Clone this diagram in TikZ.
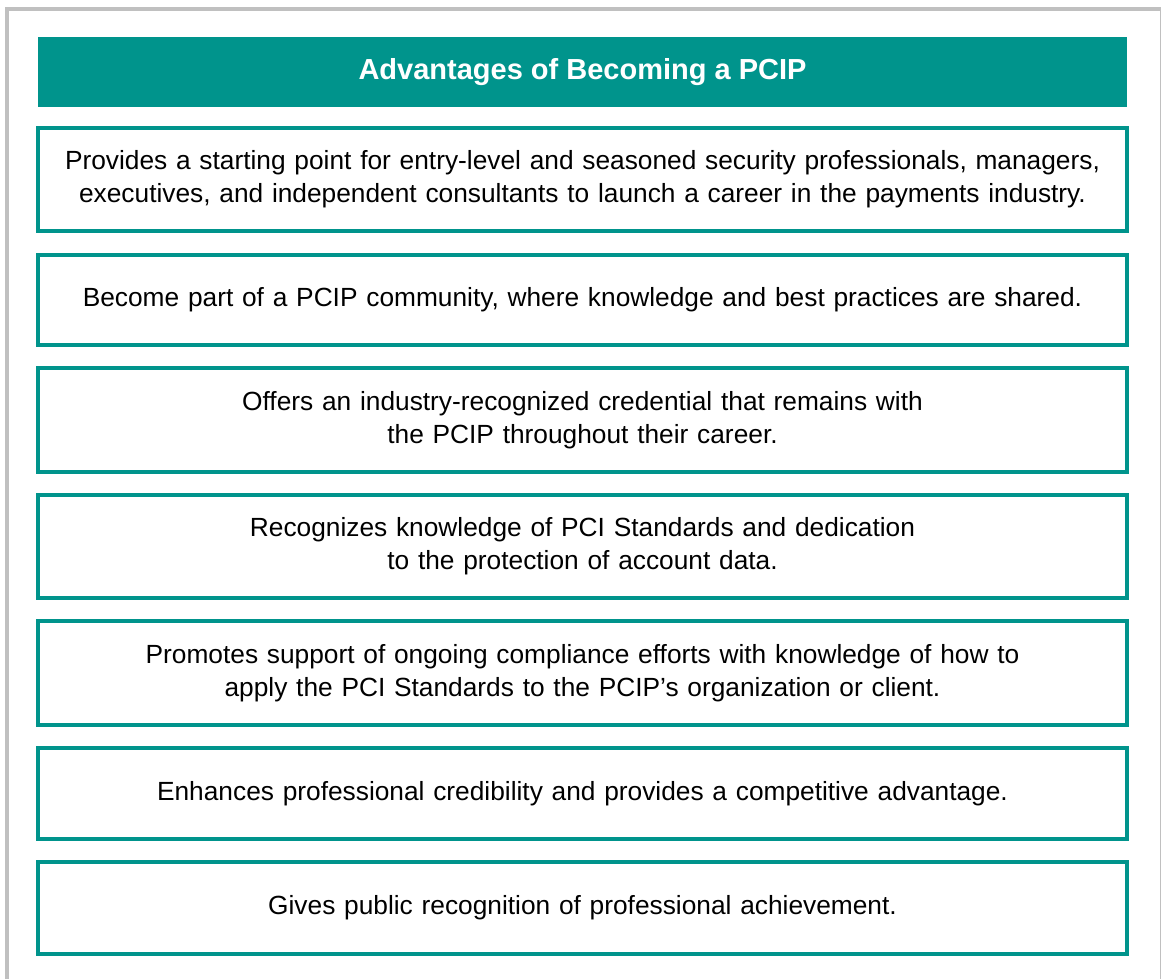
\documentclass[tikz,border=0pt]{standalone}
\usepackage{fontspec}
\setmainfont{Liberation Sans}
\usetikzlibrary{positioning}
\definecolor{pciteal}{RGB}{0,148,140}
\definecolor{framegray}{RGB}{192,192,192}

\begin{document}
\begin{tikzpicture}[x=1pt, y=-1pt,
  box/.style = {draw=pciteal, line width=4pt, inner sep=0pt, minimum width=1089pt,
                text width=1075pt, align=center, font=\fontsize{26.3}{33}\selectfont},
  head/.style = {fill=pciteal, inner sep=0pt, minimum width=1089pt, minimum height=70pt,
                 text=white, font=\fontsize{29}{33}\selectfont\bfseries}]
  \useasboundingbox (0,0) rectangle (1162,979);
  % frame
  \draw[framegray, line width=4pt] (7,979) -- (7,9) -- (1161,9);
  \draw[framegray, line width=1pt] (1160.5,9) -- (1160.5,979);
  % title
  \node[head] (title) at (582.5,72) {Advantages of Becoming a PCIP};
  % advantages
  \node[box, minimum height=103pt] (a1) at (582.5,179.5)
    {Provides a starting point for entry-level and seasoned security professionals, managers,\\
     executives, and independent consultants to launch a career in the payments industry.};
  \node[box, minimum height=90.5pt] (a2) at (582.5,299.75)
    {Become part of a PCIP community, where knowledge and best practices are shared.};
  \node[box, minimum height=104pt] (a3) at (582.5,420)
    {Offers an industry-recognized credential that remains with\\
     the PCIP throughout their career.};
  \node[box, minimum height=103pt] (a4) at (582.5,546.5)
    {Recognizes knowledge of PCI Standards and dedication\\
     to the protection of account data.};
  \node[box, minimum height=104pt] (a5) at (582.5,673)
    {Promotes support of ongoing compliance efforts with knowledge of how to\\
     apply the PCI Standards to the PCIP’s organization or client.};
  \node[box, minimum height=91pt] (a6) at (582.5,793.5)
    {Enhances professional credibility and provides a competitive advantage.};
  \node[box, minimum height=92pt] (a7) at (582.5,908)
    {Gives public recognition of professional achievement.};
\end{tikzpicture}
\end{document}
